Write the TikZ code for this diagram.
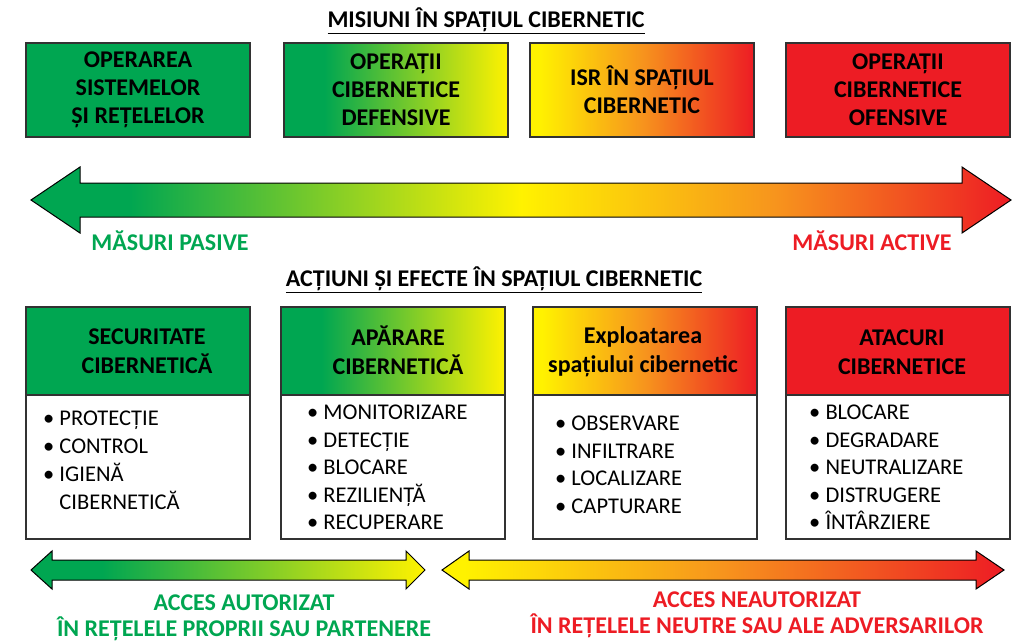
\documentclass[tikz,border=0pt]{standalone}
\usepackage{fontspec}
\setmainfont{Carlito}
\definecolor{cgreen}{RGB}{0,166,81}
\definecolor{cyellow}{RGB}{255,242,0}
\definecolor{corange}{RGB}{247,148,29}
\definecolor{cred}{RGB}{237,28,36}
\definecolor{cborder}{RGB}{50,50,50}
\pgfdeclarehorizontalshading{gyshade}{100bp}{color(0bp)=(cgreen); color(34bp)=(cgreen); color(75bp)=(cyellow); color(100bp)=(cyellow)}
\pgfdeclarehorizontalshading{yrshade}{100bp}{color(0bp)=(cyellow); color(27bp)=(cyellow); color(50bp)=(corange); color(75bp)=(cred); color(100bp)=(cred)}
\pgfdeclarehorizontalshading{gyrshade}{100bp}{color(0bp)=(cgreen); color(30bp)=(cgreen); color(50bp)=(cyellow); color(63bp)=(corange); color(75bp)=(cred); color(100bp)=(cred)}
\begin{document}
\begin{tikzpicture}[x=1pt,y=-1pt,
  box/.style={draw=cborder, line width=1.4pt, minimum width=224pt, inner sep=0pt, align=center, font=\fontsize{24}{28}\selectfont\bfseries},
  topbox/.style={box, minimum height=94pt},
  headbox/.style={box, minimum height=88pt},
  headtext/.style={inner sep=0pt, align=center, font=\fontsize{24}{29}\selectfont\bfseries},
  bodybox/.style={box, minimum height=144pt, fill=white},
  item/.style={anchor=base west, inner sep=0pt, font=\fontsize{22.5}{28}\selectfont},
  title/.style={inner sep=0pt, font=\fontsize{24}{28}\selectfont\bfseries},
  arrowshape/.style={draw=black, line width=1pt, line join=miter}
]
\useasboundingbox (0,0) rectangle (1024,641);

% titles
\node[title] (t1) at (486,21) {\underline{MISIUNI ÎN SPAȚIUL CIBERNETIC}};
\node[title] (t2) at (494,280) {\underline{ACȚIUNI ȘI EFECTE ÎN SPAȚIUL CIBERNETIC}};

% top boxes
\node[topbox, fill=cgreen] (m1) at (138,90) {OPERAREA\\SISTEMELOR\\ȘI REȚELELOR};
\node[topbox, shading=gyshade] (m2) at (396,90) {OPERAȚII\\CIBERNETICE\\DEFENSIVE};
\node[topbox, shading=yrshade] (m3) at (642,90) {ISR ÎN SPAȚIUL\\CIBERNETIC};
\node[topbox, fill=cred] (m4) at (898,90) {OPERAȚII\\CIBERNETICE\\OFENSIVE};

% big double arrow
\path[arrowshape, shading=gyrshade] (31,200) -- (80,167) -- (80,183) -- (962,183) -- (962,167) -- (1011,200) -- (962,233) -- (962,217) -- (80,217) -- (80,233) -- cycle;
\node[title, text=cgreen] (mp) at (170,241) {MĂSURI PASIVE};
\node[title, text=cred] (ma) at (872,241) {MĂSURI ACTIVE};

% lower boxes
\node[bodybox] (b1) at (138,467) {};
\node[headbox, fill=cgreen] (h1) at (138,351) {};
\node[headtext] (h1t) at (147,351) {SECURITATE\\CIBERNETICĂ};
\node[bodybox] (b2) at (393,467) {};
\node[headbox, shading=gyshade] (h2) at (393,351) {};
\node[headtext] (h2t) at (398,350) {APĂRARE\\CIBERNETICĂ};
\node[bodybox] (b3) at (645,467) {};
\node[headbox, shading=yrshade] (h3) at (645,351) {};
\node[headtext] (h3t) at (643,352) {Exploatarea\\spațiului cibernetic};
\node[bodybox] (b4) at (898,467) {};
\node[headbox, fill=cred] (h4) at (898,351) {};
\node[headtext] (h4t) at (902,352) {ATACURI\\CIBERNETICE};

% bullet lists
\node[item] (l1a) at (43,425) {• PROTECȚIE};
\node[item] (l1b) at (43,453) {• CONTROL};
\node[item] (l1c) at (43,481) {• IGIENĂ};
\node[item] (l1d) at (43,509) {\phantom{• }CIBERNETICĂ};

\node[item] (l2a) at (307,419) {• MONITORIZARE};
\node[item] (l2b) at (307,447) {• DETECȚIE};
\node[item] (l2c) at (307,474) {• BLOCARE};
\node[item] (l2d) at (307,502) {• REZILIENȚĂ};
\node[item] (l2e) at (307,529) {• RECUPERARE};

\node[item] (l3a) at (555,430) {• OBSERVARE};
\node[item] (l3b) at (555,458) {• INFILTRARE};
\node[item] (l3c) at (555,485) {• LOCALIZARE};
\node[item] (l3d) at (555,513) {• CAPTURARE};

\node[item] (l4a) at (809,419) {• BLOCARE};
\node[item] (l4b) at (809,447) {• DEGRADARE};
\node[item] (l4c) at (809,474) {• NEUTRALIZARE};
\node[item] (l4d) at (809,502) {• DISTRUGERE};
\node[item] (l4e) at (809,529) {• ÎNTÂRZIERE};

% bottom arrows
\path[arrowshape, shading=gyshade] (31,570) -- (52,551) -- (52,560) -- (406,560) -- (406,551) -- (425,570) -- (406,589) -- (406,580) -- (52,580) -- (52,589) -- cycle;
\path[arrowshape, shading=yrshade] (442,570) -- (469,551) -- (469,560) -- (976,560) -- (976,551) -- (1004,570) -- (976,589) -- (976,580) -- (469,580) -- (469,589) -- cycle;

\node[title, text=cgreen] (aa) at (244,603) {ACCES AUTORIZAT};
\node[title, text=cgreen] (ab) at (244,629) {ÎN REȚELELE PROPRII SAU PARTENERE};
\node[title, text=cred] (na) at (757,600) {ACCES NEAUTORIZAT};
\node[title, text=cred] (nb) at (757,626) {ÎN REȚELELE NEUTRE SAU ALE ADVERSARILOR};
\end{tikzpicture}
\end{document}
